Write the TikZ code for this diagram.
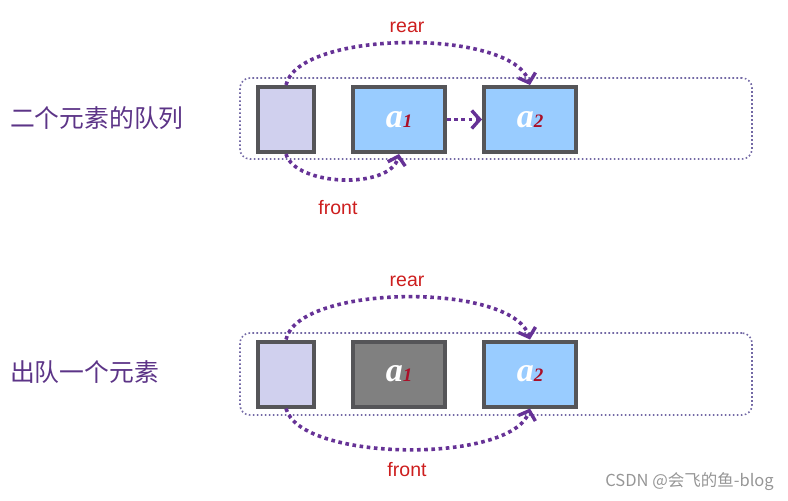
\documentclass[tikz,border=0pt]{standalone}
\usepackage{fontspec}
\setmainfont{Liberation Serif}
\newfontfamily\cjk{Noto Sans CJK SC}
\newfontfamily\lsans{Liberation Sans}
\usetikzlibrary{arrows.meta}
\definecolor{boxborder}{RGB}{85,85,88}
\definecolor{lav}{RGB}{208,208,238}
\definecolor{lblue}{RGB}{153,204,255}
\definecolor{dgray}{RGB}{128,128,128}
\definecolor{arrpurple}{RGB}{102,50,150}
\definecolor{outerdot}{RGB}{115,105,165}
\definecolor{lblred}{RGB}{205,30,30}
\definecolor{subred}{RGB}{170,15,40}
\definecolor{cjkpurple}{RGB}{92,52,135}
\definecolor{wmgray}{RGB}{150,150,150}
\tikzset{
  cell/.style={draw=boxborder, line width=4pt, inner sep=0pt, minimum height=65pt},
  emptycell/.style={cell, fill=lav, minimum width=56pt},
  datacell/.style={cell, fill=lblue, minimum width=92pt},
  gonecell/.style={cell, fill=dgray, minimum width=92pt},
  outerbox/.style={draw=outerdot, line width=1.6pt, dash pattern=on 1.6pt off 2.4pt, rounded corners=10pt},
  ptr/.style={draw=arrpurple, line width=3.6pt, dash pattern=on 3.6pt off 3.6pt,
    -{Straight Barb[length=8pt,width=18pt,line width=3.4pt]}},
  ptrlabel/.style={font=\lsans\fontsize{19.5}{20}\selectfont, text=lblred, inner sep=0pt},
  sidelabel/.style={font=\cjk\fontsize{24.8}{25}\selectfont, text=cjkpurple, inner sep=0pt, anchor=west},
}
\newcommand{\elem}[1]{{\fontsize{34}{34}\selectfont\bfseries\itshape\textcolor{white}{a}}{\fontsize{19}{19}\selectfont\bfseries\itshape\textcolor{subred}{#1}}}
\begin{document}
\begin{tikzpicture}[x=1pt,y=-1pt]
\useasboundingbox (0,0) rectangle (788,501);
% ---------- top row ----------
\node[sidelabel] (lab1) at (10,118) {二个元素的队列};
\node[outerbox, minimum width=512pt, minimum height=81pt, inner sep=0pt] (q1) at (496,118.5) {};
\node[emptycell] (t0) at (286,119.5) {};
\node[datacell] (t1) at (399,119.5) {\elem{1}};
\node[datacell] (t2) at (530,119.5) {\elem{2}};
\draw[ptr] (t1.east) -- (t2.west);
\draw[ptr] (t0.north) .. controls (298,30) and (512,28) .. (t2.north);
\draw[ptr] (t0.south) .. controls (295,186) and (390,190) .. (t1.south);
\node[ptrlabel] (rear1) at (407,27) {rear};
\node[ptrlabel] (front1) at (338,208) {front};
% ---------- bottom row ----------
\node[sidelabel] (lab2) at (10,372) {出队一个元素};
\node[outerbox, minimum width=512pt, minimum height=82pt, inner sep=0pt] (q2) at (496,374) {};
\node[emptycell] (b0) at (286,374) {};
\node[gonecell] (b1) at (399,374) {\elem{1}};
\node[datacell] (b2) at (530,374) {\elem{2}};
\draw[ptr] (b0.north) .. controls (298,284) and (512,282) .. (b2.north);
\draw[ptr] (b0.south) .. controls (300,462) and (512,464) .. (b2.south);
\node[ptrlabel] (rear2) at (407,281) {rear};
\node[ptrlabel] (front2) at (407,470) {front};
% ---------- watermark ----------
\node[font=\cjk\fontsize{16.5}{17}\selectfont, text=wmgray, anchor=east, inner sep=0pt] (wm) at (774,482) {CSDN @会飞的鱼-blog};
\end{tikzpicture}
\end{document}
